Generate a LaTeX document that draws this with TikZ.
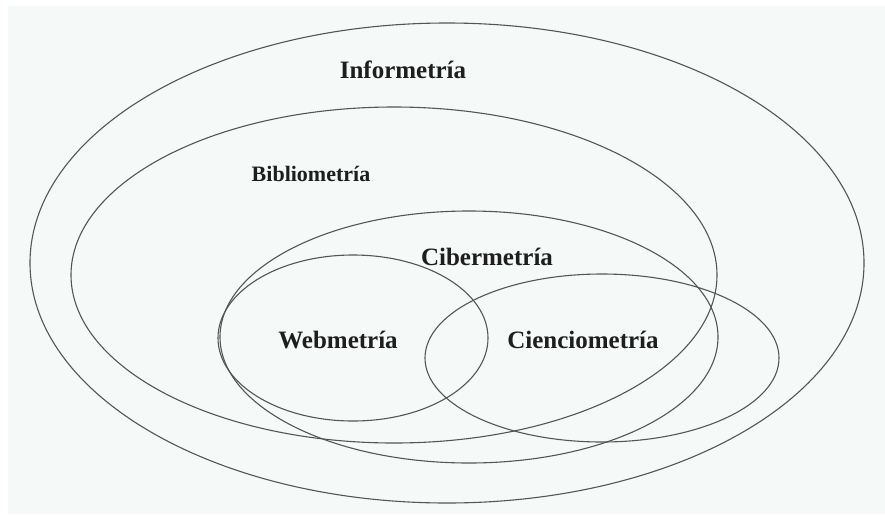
\documentclass[tikz,border=0pt]{standalone}
\usepackage{fontspec}
\setmainfont{Liberation Serif}
\usetikzlibrary{shapes.geometric}
\definecolor{bgc}{RGB}{245,249,247}
\definecolor{linec}{RGB}{85,85,85}
\definecolor{txtc}{RGB}{30,30,30}
\begin{document}
\begin{tikzpicture}[x=1pt,y=-1pt,
  setbox/.style={ellipse,draw=linec,line width=1.1pt,inner sep=0pt,outer sep=0pt},
  lbl/.style={anchor=base,inner sep=0pt,text=txtc,font=\bfseries\fontsize{25}{30}\selectfont}]
\useasboundingbox (0,0) rectangle (885,517);
\fill[white] (0,0) rectangle (885,517);
\fill[bgc] (8,6) rectangle (885,514);
\node[setbox,minimum width=834pt,minimum height=480pt] (info) at (447,263) {};
\node[setbox,minimum width=646pt,minimum height=336pt] (biblio) at (394,275) {};
\node[setbox,minimum width=498pt,minimum height=252pt] (ciber) at (469,337) {};
\node[setbox,minimum width=270pt,minimum height=166pt] (web) at (353,338) {};
\node[setbox,minimum width=354pt,minimum height=168pt] (ciencio) at (602,358) {};
\node[lbl] (tinfo) at (403,78) {Informetría};
\node[lbl,font=\bfseries\fontsize{22}{26}\selectfont] (tbiblio) at (311,181) {Bibliometría};
\node[lbl] (tciber) at (487,265) {Cibermetría};
\node[lbl] (tweb) at (338,348) {Webmetría};
\node[lbl] (tciencio) at (583,348) {Cienciometría};
\end{tikzpicture}
\end{document}
